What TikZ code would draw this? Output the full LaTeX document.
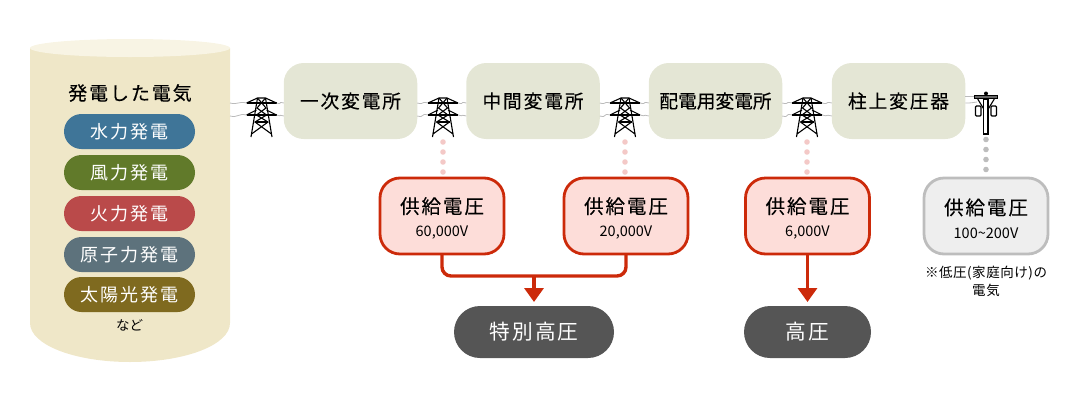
\documentclass[tikz,border=0pt]{standalone}
\usepackage{fontspec}
\usetikzlibrary{arrows.meta}
\setmainfont{Noto Sans CJK JP}
\newfontfamily\jpm[LetterSpace=10,FakeBold=0.25]{Noto Sans CJK JP}
\newfontfamily\jpt[FakeBold=0.25]{Noto Sans CJK JP}
\newfontfamily\jpr[LetterSpace=10]{Noto Sans CJK JP}
\newfontfamily\jpn{Noto Sans CJK JP}
\newfontfamily\jps[LetterSpace=4]{Noto Sans CJK JP}
\definecolor{cylbody}{HTML}{EFE7C8}
\definecolor{cyltop}{HTML}{F8F4E4}
\definecolor{stationfill}{HTML}{E4E6D5}
\definecolor{redline}{HTML}{CC2A0A}
\definecolor{redfill}{HTML}{FDDDD9}
\definecolor{greyline}{HTML}{BDBDBD}
\definecolor{greyfill}{HTML}{EEEEEE}
\definecolor{darkpill}{HTML}{555555}
\definecolor{pinkdot}{HTML}{F4C9C7}
\definecolor{wirecol}{HTML}{BBBBBB}
\definecolor{srcblue}{RGB}{63,117,152}
\definecolor{srcgreen}{RGB}{97,122,42}
\definecolor{srcred}{RGB}{186,74,74}
\definecolor{srcslate}{RGB}{93,114,124}
\definecolor{srcolive}{RGB}{127,106,31}
\tikzset{
  x=1pt,y=-1pt,
  every node/.style={inner sep=0pt,outer sep=0pt,align=center},
  station/.style={fill=stationfill,rounded corners=20pt,minimum width=133.5pt,minimum height=76pt,font=\fontsize{18.7}{22}\selectfont\jpm},
  source/.style={rounded corners=17.5pt,minimum width=131pt,minimum height=35pt,text=white,font=\fontsize{18}{20}\selectfont\jpr},
  supply/.style={draw=redline,fill=redfill,line width=2.8pt,rounded corners=20pt,minimum width=124pt,minimum height=76pt},
  supplygrey/.style={supply,draw=greyline,fill=greyfill},
  level/.style={fill=darkpill,rounded corners=26pt,minimum height=52pt,text=white,font=\fontsize{20.7}{24}\selectfont\jpr},
  wire/.style={draw=wirecol,line width=0.8pt},
  dots/.style={line cap=round,line width=5.6pt,dash pattern=on 0pt off 10pt,shorten <=5pt,shorten >=5pt},
  feed/.style={draw=redline,line width=3.4pt},
  tip/.style={-{Triangle[width=19pt,length=14pt]},shorten >=4pt},
  lattice/.style={draw=black,line width=1.1pt,line join=miter}
}
\newcommand{\supplytext}[2]{\rule{0pt}{21pt}{\fontsize{19.5}{24}\selectfont\jpm #1}\\[10pt]{\fontsize{14.5}{16}\selectfont\jpn #2}}
\newcommand{\pylon}[2]{%
  \node (#1) at (#2,117.5) [minimum width=30pt,minimum height=39pt] {};
  \coordinate (#1la) at (#2-15,103);\coordinate (#1ra) at (#2+15,103);
  \coordinate (#1lb) at (#2-15,115);\coordinate (#1rb) at (#2+15,115);
  \begin{scope}[shift={(#2,98)}]
    \draw[lattice] (-15,5)--(15,5) (-15,17)--(15,17);
    \draw[lattice] (-15,5)--(-4,0)--(4,0)--(15,5);
    \draw[lattice] (-15,17)--(-5,12) (15,17)--(5,12);
    \draw[lattice] (-4,0)--(-10.5,39) (4,0)--(10.5,39);
    \draw[lattice] (-4,0)--(4.5,10)--(-5,17)--(6.5,24)--(-10,36);
    \draw[lattice] (4,0)--(-4.5,10)--(5,17)--(-6.5,24)--(10,36);
    \draw[lattice] (-6.5,24)--(6.5,24);
  \end{scope}}
\begin{document}
\begin{tikzpicture}
\useasboundingbox (0,0) rectangle (1080,400);
% source cylinder
\fill[cylbody] (30,48) -- (230,48) -- (230,323)
  .. controls (230,345) and (185,362) .. (130,362)
  .. controls (75,362) and (30,345) .. (30,323) -- cycle;
\fill[cyltop] (130,48) ellipse [x radius=100,y radius=9];
\node (gen) at (130,93) [font=\fontsize{19}{22}\selectfont\jpm] {発電した電気};
\node[source,fill=srcblue] (s1) at (129.5,131.5) {水力発電};
\node[source,fill=srcgreen] (s2) at (129.5,172.5) {風力発電};
\node[source,fill=srcred] (s3) at (129.5,213.5) {火力発電};
\node[source,fill=srcslate] (s4) at (129.5,254.5) {原子力発電};
\node[source,fill=srcolive] (s5) at (129.5,294.5) {太陽光発電};
\node (nado) at (129.5,325) [font=\fontsize{13.5}{16}\selectfont\jpn] {など};
% stations
\node[station] (a) at (350.5,101) {一次変電所};
\node[station] (b) at (533,101) {中間変電所};
\node[station,font=\fontsize{18.7}{22}\selectfont\jpt] (c) at (715.5,101) {配電用変電所};
\node[station] (d) at (898.5,101) {柱上変圧器};
% pylons
\pylon{t1}{261.5}
\pylon{t2}{443}
\pylon{t3}{625}
\pylon{t4}{807}
% wires
\coordinate (cua) at (230,103);\coordinate (cub) at (230,116);
\foreach \l/\r/\ly/\ry in {cua/t1la/103/103,cub/t1lb/116/115,t1ra/a/103/103,t1rb/a/115/116,
  a/t2la/103/103,a/t2lb/116/115,t2ra/b/103/103,t2rb/b/115/116,
  b/t3la/103/103,b/t3lb/116/115,t3ra/c/103/103,t3rb/c/115/116,
  c/t4la/103/103,c/t4lb/116/115,t4ra/d/103/103,t4rb/d/115/116}{
  \draw[wire] (\l.east |- 0,\ly) .. controls +(8,2) and +(-8,-2) .. (\r.west |- 0,\ry);
}
% pole
\node (p) at (986,114) [minimum width=24pt,minimum height=41pt] {};
\coordinate (pl) at (975,96);\coordinate (plb) at (977,102);
\draw[wire] (d.east |- 0,96) -- (pl);
\draw[wire] (d.east |- 0,103) .. controls (970,103) .. (plb);
\draw[lattice] (977.7,99)--(985,111) (994.3,99)--(987,111);
\fill[black] (986,93.5) circle [radius=2];
\draw[draw=black,fill=black!60,line width=1pt] (974.5,95.5) rectangle (997.5,98.5);
\draw[draw=black,fill=white,line width=1.2pt] (983.7,99) rectangle (987.9,134);
\draw[draw=black,fill=white,line width=1.1pt,rounded corners=1pt] (975.5,106) rectangle (981,116);
\draw[draw=black,fill=white,line width=1.1pt,rounded corners=1pt] (991,106) rectangle (996.5,116);
% supply boxes
\node[supply] (v1) at (442,216) {\supplytext{供給電圧}{60,000V}};
\node[supply] (v2) at (626,216) {\supplytext{供給電圧}{20,000V}};
\node[supply] (v3) at (807.5,216) {\supplytext{供給電圧}{6,000V}};
\node[supplygrey] (v4) at (986,216) {\supplytext{供給電圧}{100\char`\~200V}};
\node (note) at (986,281) [font=\fontsize{13.5}{18}\selectfont\jps] {※低圧(家庭向け)の\\電気};
% dotted links
\draw[dots,draw=pinkdot] (t2.south) -- (v1.north -| t2.south);
\draw[dots,draw=pinkdot] (t3.south) -- (v2.north -| t3.south);
\draw[dots,draw=pinkdot] (t4.south) -- (v3.north -| t4.south);
\draw[dots,draw=greyline] (p.south) -- (v4.north);
% levels
\node[level,minimum width=160pt] (hv2) at (534,332) {特別高圧};
\node[level,minimum width=127pt] (hv1) at (807.5,332) {高圧};
\coordinate (jn) at (534,276);
\draw[feed,rounded corners=9pt] (v1.south) |- (jn) -| (v2.south);
\draw[feed,tip] (jn) -- (hv2.north);
\draw[feed,tip] (v3.south) -- (hv1.north);
\end{tikzpicture}
\end{document}
